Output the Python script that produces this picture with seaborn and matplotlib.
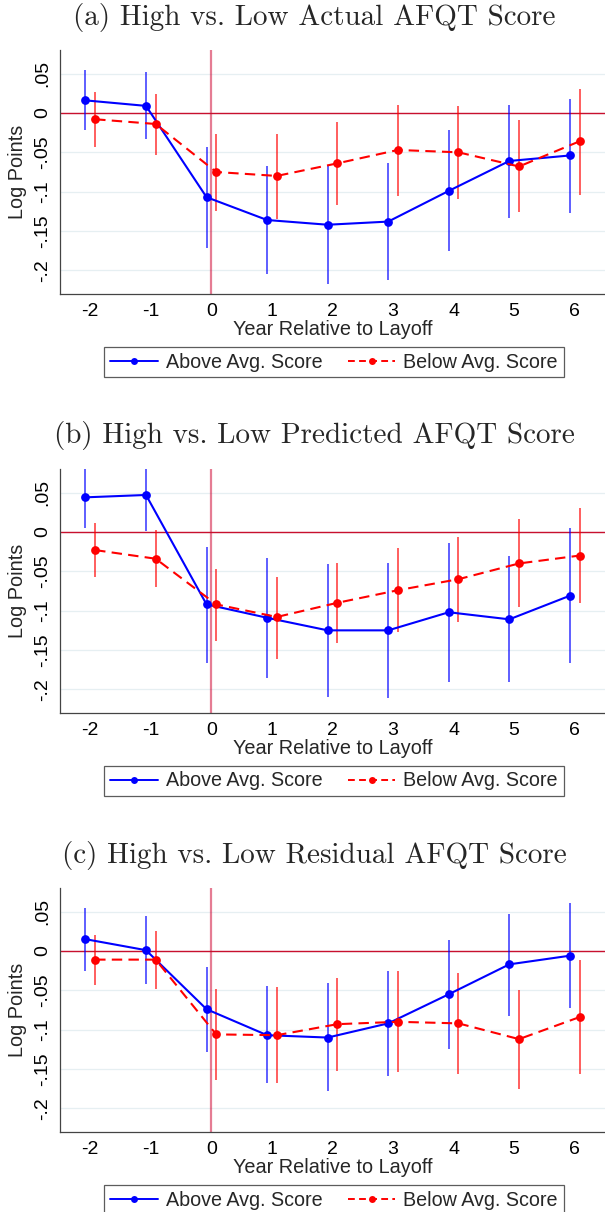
import matplotlib
matplotlib.use("Agg")
import matplotlib.pyplot as plt
import numpy as np
import pandas as pd
import seaborn as sns

# event-time years
years = [-2, -1, 0, 1, 2, 3, 4, 5, 6]
groups = ["Above Avg. Score", "Below Avg. Score"]

titles = [
    "(a) High vs. Low Actual AFQT Score",
    "(b) High vs. Low Predicted AFQT Score",
    "(c) High vs. Low Residual AFQT Score",
]

# (a) actual AFQT
a_above = [0.016, 0.009, -0.107, -0.136, -0.142, -0.138, -0.099, -0.061, -0.054]
a_above_lo = [-0.022, -0.033, -0.171, -0.205, -0.217, -0.212, -0.175, -0.134, -0.127]
a_above_hi = [0.054, 0.052, -0.043, -0.067, -0.068, -0.064, -0.022, 0.010, 0.018]
a_below = [-0.008, -0.014, -0.075, -0.080, -0.064, -0.047, -0.050, -0.068, -0.036]
a_below_lo = [-0.043, -0.053, -0.125, -0.135, -0.117, -0.105, -0.109, -0.126, -0.104]
a_below_hi = [0.027, 0.024, -0.027, -0.027, -0.011, 0.010, 0.009, -0.009, 0.031]

# (b) predicted AFQT
b_above = [0.044, 0.047, -0.092, -0.109, -0.125, -0.125, -0.102, -0.111, -0.081]
b_above_lo = [0.005, 0.001, -0.166, -0.186, -0.210, -0.211, -0.191, -0.191, -0.166]
b_above_hi = [0.085, 0.088, -0.019, -0.033, -0.041, -0.039, -0.014, -0.031, 0.005]
b_below = [-0.023, -0.034, -0.092, -0.108, -0.090, -0.074, -0.060, -0.040, -0.030]
b_below_lo = [-0.057, -0.070, -0.138, -0.161, -0.141, -0.127, -0.114, -0.095, -0.090]
b_below_hi = [0.011, 0.002, -0.047, -0.057, -0.039, -0.020, -0.006, 0.016, 0.031]

# (c) residual AFQT
c_above = [0.015, 0.001, -0.074, -0.107, -0.110, -0.092, -0.055, -0.017, -0.006]
c_above_lo = [-0.026, -0.042, -0.128, -0.168, -0.178, -0.159, -0.124, -0.082, -0.073]
c_above_hi = [0.055, 0.045, -0.021, -0.045, -0.041, -0.025, 0.014, 0.047, 0.061]
c_below = [-0.011, -0.011, -0.106, -0.107, -0.093, -0.090, -0.092, -0.112, -0.084]
c_below_lo = [-0.043, -0.048, -0.164, -0.168, -0.152, -0.154, -0.156, -0.176, -0.156]
c_below_hi = [0.020, 0.026, -0.048, -0.046, -0.034, -0.025, -0.028, -0.049, -0.011]

y_ticks = [0.05, 0, -0.05, -0.1, -0.15, -0.2]
y_ticklabels = [".05", "0", "-.05", "-.1", "-.15", "-.2"]

panels = [
    (a_above, a_above_lo, a_above_hi, a_below, a_below_lo, a_below_hi),
    (b_above, b_above_lo, b_above_hi, b_below, b_below_lo, b_below_hi),
    (c_above, c_above_lo, c_above_hi, c_below, c_below_lo, c_below_hi),
]

sns.set_theme(style="white")
plt.rcParams["font.family"] = ["Liberation Sans", "DejaVu Sans"]

W, H = 605, 1212
fig = plt.figure(figsize=(W / 100, H / 100), dpi=100)

colors = {"Above Avg. Score": "#0000ff", "Below Avg. Score": "#ff0000"}
shift = {"Above Avg. Score": -0.08, "Below Avg. Score": 0.08}

# pixel layout of each panel: title y, axes top, axes bottom, legend centre y
layout = [(18, 50, 294, 362), (436, 469, 713, 781), (856, 888, 1132, 1200)]
left_px = 60

for (est_hi, lo_hi, up_hi, est_lo, lo_lo, up_lo), title, (ty, top, bot, ly) in zip(panels, titles, layout):
    ax = fig.add_axes([left_px / W, 1 - bot / H, 1 - left_px / W, (bot - top) / H])

    df = pd.DataFrame({
        "year": years * 2,
        "group": [groups[0]] * len(years) + [groups[1]] * len(years),
        "est": est_hi + est_lo,
        "lo": lo_hi + lo_lo,
        "hi": up_hi + up_lo,
    })
    df["xpos"] = df["year"] + df["group"].map(shift)

    ax.axvline(0, color="#d0103a", alpha=0.55, lw=1.6, zorder=1)
    ax.axhline(0, color="#c8102e", lw=1.0, zorder=2)

    for g in groups:
        sub = df[df["group"] == g]
        ax.vlines(sub["xpos"], sub["lo"], sub["hi"], color=colors[g], lw=1.1, alpha=0.8, zorder=3)

    sns.lineplot(
        data=df, x="xpos", y="est", hue="group", style="group",
        palette=colors, dashes={groups[0]: "", groups[1]: (5, 3)},
        markers={groups[0]: "o", groups[1]: "o"}, markersize=6.3,
        markeredgewidth=0, lw=1.5, ax=ax, zorder=4, legend=False,
    )

    ax.set_xlim(-2.5, 6.5)
    ax.set_ylim(-0.23, 0.08)
    ax.set_xticks(years)
    ax.set_xticklabels([str(y) for y in years])
    ax.set_yticks(y_ticks)
    ax.set_yticklabels(y_ticklabels, rotation=90, va="center")
    ax.tick_params(axis="both", labelsize=14, length=3.5, width=0.9,
                   color="#444444", labelcolor="black", direction="out")
    ax.tick_params(axis="y", pad=3)
    ax.tick_params(axis="x", pad=3)
    ax.set_xlabel("Year Relative to Layoff", fontsize=14.3, labelpad=0)
    ax.set_ylabel("Log Points", fontsize=14.3, labelpad=5)
    ax.grid(axis="y", color="#e6eff2", lw=0.9)
    ax.set_axisbelow(True)
    for s in ["top", "right"]:
        ax.spines[s].set_visible(False)
    for s in ["left", "bottom"]:
        ax.spines[s].set_color("#444444")
        ax.spines[s].set_linewidth(0.9)

    fig.text(314 / W, 1 - ty / H, title, ha="center", va="center",
             fontsize=21, family="cmr10")

    handles = [
        plt.Line2D([], [], color=colors[groups[0]], lw=1.4, marker="o", markersize=5, markeredgewidth=0),
        plt.Line2D([], [], color=colors[groups[1]], lw=1.4, ls=(0, (3.5, 2.2)), marker="o", markersize=5, markeredgewidth=0),
    ]
    leg = fig.legend(handles, groups, loc="center", bbox_to_anchor=(334 / W, 1 - ly / H),
                     ncol=2, fontsize=14.2, frameon=True, fancybox=False,
                     handlelength=2.4, handletextpad=0.4, columnspacing=1.3,
                     borderpad=0.3, edgecolor="#333333")
    leg.get_frame().set_linewidth(0.9)

fig.savefig("out.png", dpi=100)
